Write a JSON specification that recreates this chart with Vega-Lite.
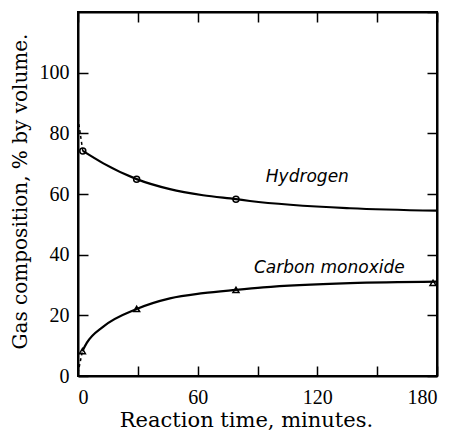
{
  "$schema": "https://vega.github.io/schema/vega-lite/v6.json",
  "width": 359,
  "height": 364,
  "autosize": {"type": "none"},
  "padding": {"left": 78, "top": 12, "right": 20, "bottom": 55},
  "background": "white",
  "config": {
    "view": {"stroke": "black", "strokeWidth": 2},
    "style": {"guide-label": {"font": "Liberation Serif", "fontSize": 20, "fill": "black"}},
    "axis": {
      "grid": false,
      "domainColor": "black",
      "domainWidth": 2,
      "tickColor": "black",
      "tickWidth": 1.5,
      "tickSize": -10,
      "labelColor": "black",
      "labelFont": "Liberation Serif",
      "labelFontSize": 20,
      "titleFontWeight": "normal",
      "titleColor": "black"
    }
  },
  "data": {
    "values": [
      {"series": "Hydrogen", "kind": "curve", "t": 2.4, "v": 74.2},
      {"series": "Hydrogen", "kind": "curve", "t": 12.7, "v": 70.1},
      {"series": "Hydrogen", "kind": "curve", "t": 29.4, "v": 64.9},
      {"series": "Hydrogen", "kind": "curve", "t": 46.1, "v": 61.6},
      {"series": "Hydrogen", "kind": "curve", "t": 62.7, "v": 59.6},
      {"series": "Hydrogen", "kind": "curve", "t": 79.2, "v": 58.3},
      {"series": "Hydrogen", "kind": "curve", "t": 86.2, "v": 57.7},
      {"series": "Hydrogen", "kind": "curve", "t": 136.4, "v": 55.3},
      {"series": "Hydrogen", "kind": "curve", "t": 180, "v": 54.5},
      {"series": "Carbon monoxide", "kind": "curve", "t": 2.2, "v": 8.2},
      {"series": "Carbon monoxide", "kind": "curve", "t": 4.4, "v": 10.9},
      {"series": "Carbon monoxide", "kind": "curve", "t": 12.7, "v": 16.3},
      {"series": "Carbon monoxide", "kind": "curve", "t": 29.4, "v": 22.1},
      {"series": "Carbon monoxide", "kind": "curve", "t": 46.1, "v": 25.6},
      {"series": "Carbon monoxide", "kind": "curve", "t": 62.7, "v": 27.3},
      {"series": "Carbon monoxide", "kind": "curve", "t": 79.2, "v": 28.4},
      {"series": "Carbon monoxide", "kind": "curve", "t": 92.8, "v": 29.2},
      {"series": "Carbon monoxide", "kind": "curve", "t": 136.4, "v": 30.6},
      {"series": "Carbon monoxide", "kind": "curve", "t": 180, "v": 31.1},
      {"series": "Hydrogen", "kind": "extrap", "t": 0, "v": 85},
      {"series": "Hydrogen", "kind": "extrap", "t": 2.4, "v": 74.2},
      {"series": "Carbon monoxide", "kind": "extrap", "t": 0, "v": 1},
      {"series": "Carbon monoxide", "kind": "extrap", "t": 2.2, "v": 8.2},
      {"series": "Hydrogen", "kind": "obs", "t": 2.4, "v": 74.2},
      {"series": "Hydrogen", "kind": "obs", "t": 29.4, "v": 64.9},
      {"series": "Hydrogen", "kind": "obs", "t": 79.2, "v": 58.3},
      {"series": "Carbon monoxide", "kind": "obs", "t": 2.2, "v": 8.2},
      {"series": "Carbon monoxide", "kind": "obs", "t": 29.4, "v": 22.1},
      {"series": "Carbon monoxide", "kind": "obs", "t": 79.2, "v": 28.4},
      {"series": "Carbon monoxide", "kind": "obs", "t": 178, "v": 30.7},
      {"series": "Hydrogen", "kind": "label", "t": 115, "v": 65.6},
      {"series": "Carbon monoxide", "kind": "label", "t": 126, "v": 35.6}
    ]
  },
  "resolve": {"axis": {"x": "independent", "y": "independent"}},
  "layer": [
    {
      "transform": [{"filter": "datum.kind === 'curve'"}],
      "mark": {"type": "line", "interpolate": "monotone", "color": "black", "strokeWidth": 2.2},
      "encoding": {
        "x": {"field": "t", "type": "quantitative", "scale": {"domain": [0, 180], "nice": false},
          "axis": {"orient": "bottom", "values": [0, 60, 120, 180], "labelFont": "Liberation Serif", "labelFontSize": 20, "labelPadding": 21, "title": "Reaction time, minutes.", "titleFont": "DejaVu Serif", "titleFontSize": 21, "titleX": 168, "titleY": 50, "titleBaseline": "alphabetic", "titleAnchor": "start", "titleAlign": "center"}},
        "y": {"field": "v", "type": "quantitative", "scale": {"domain": [0, 120], "nice": false},
          "axis": {"orient": "left", "values": [0, 20, 40, 60, 80, 100], "labelFont": "Liberation Serif", "labelFontSize": 20, "labelPadding": 19, "title": "Gas composition, % by volume.", "titleFont": "DejaVu Serif", "titleFontSize": 20, "titleX": -58, "titleY": 179, "titleAngle": -90, "titleAlign": "center", "titleBaseline": "middle"}},
        "detail": {"field": "series"}
      }
    },
    {
      "transform": [{"filter": "datum.kind === 'extrap'"}],
      "mark": {"type": "line", "color": "black", "strokeWidth": 1.5, "strokeDash": [3, 3]},
      "encoding": {
        "x": {"field": "t", "type": "quantitative", "axis": {"orient": "bottom", "values": [30, 90, 150], "labels": false, "domain": false, "title": null}},
        "y": {"field": "v", "type": "quantitative", "axis": null},
        "detail": {"field": "series"}
      }
    },
    {
      "transform": [{"filter": "datum.kind === 'obs'"}],
      "mark": {"type": "point", "filled": false, "color": "black", "strokeWidth": 1.5, "opacity": 1},
      "encoding": {
        "x": {"field": "t", "type": "quantitative", "axis": {"orient": "top", "values": [0, 30, 60, 90, 120, 150, 180], "labels": false, "title": null}},
        "y": {"field": "v", "type": "quantitative", "axis": {"orient": "right", "values": [0, 20, 40, 60, 80, 100, 120], "labels": false, "title": null}},
        "shape": {"field": "series", "type": "nominal", "scale": {"domain": ["Hydrogen", "Carbon monoxide"], "range": ["circle", "triangle-up"]}, "legend": null},
        "size": {"value": 36}
      }
    },
    {
      "transform": [{"filter": "datum.kind === 'label'"}],
      "mark": {"type": "text", "font": "DejaVu Sans", "fontStyle": "italic", "fontSize": 17, "color": "black", "align": "center", "baseline": "middle"},
      "encoding": {
        "x": {"field": "t", "type": "quantitative", "axis": null},
        "y": {"field": "v", "type": "quantitative", "axis": null},
        "text": {"field": "series"}
      }
    }
  ]
}
